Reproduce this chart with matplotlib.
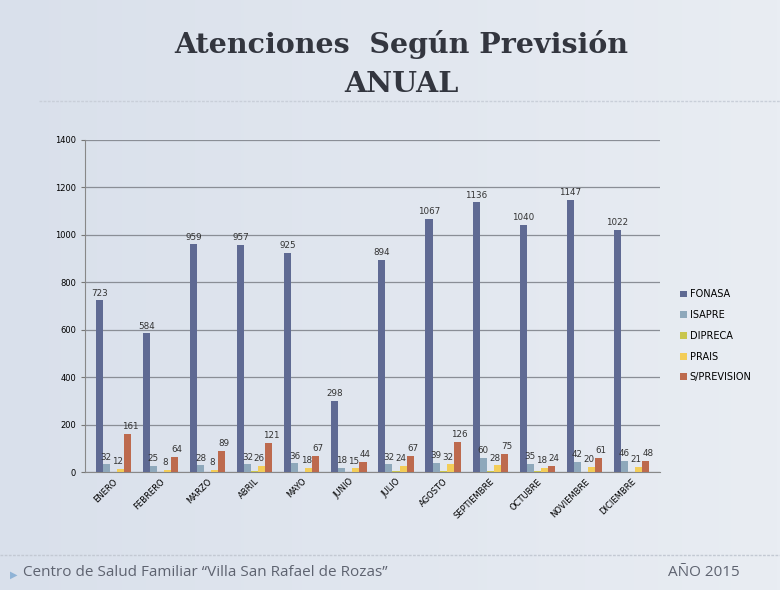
import numpy as np
import matplotlib.pyplot as plt
from matplotlib.lines import Line2D

# data
months = ['ENERO', 'FEBRERO', 'MARZO', 'ABRIL', 'MAYO', 'JUNIO', 'JULIO',
          'AGOSTO', 'SEPTIEMBRE', 'OCTUBRE', 'NOVIEMBRE', 'DICIEMBRE']
fonasa = [723, 584, 959, 957, 925, 298, 894, 1067, 1136, 1040, 1147, 1022]
isapre = [32, 25, 28, 32, 36, 18, 32, 39, 60, 35, 42, 46]
dipreca = [2, 1, 1, 3, 2, 2, 3, 4, 3, 3, 2, 2]
prais = [12, 8, 8, 26, 18, 15, 24, 32, 28, 18, 20, 21]
sprev = [161, 64, 89, 121, 67, 44, 67, 126, 75, 24, 61, 48]

names = ['FONASA', 'ISAPRE', 'DIPRECA', 'PRAIS', 'S/PREVISION']
series = [fonasa, isapre, dipreca, prais, sprev]
colors = ['#5f6a93', '#8ea8bb', '#c9c64e', '#f3cd58', '#bd6a4e']
show_lbl = [True, True, False, True, True]
lbl_dx = [0, 0, 0, -0.05, 0.05]

fig = plt.figure(figsize=(7.8, 5.9), dpi=100)
fig.patch.set_facecolor('#dfe5ee')

# soft background gradient
bg = fig.add_axes([0, 0, 1, 1], zorder=-1)
grad = np.linspace(0, 1, 256).reshape(1, -1)
bg.imshow(grad, aspect='auto', cmap=plt.matplotlib.colors.LinearSegmentedColormap.from_list(
    'bg', ['#d9e0eb', '#e9edf3']), extent=[0, 1, 0, 1])
bg.axis('off')

ax = fig.add_axes([0.109, 0.2, 0.737, 0.563])
ax.set_facecolor('none')

x = np.arange(len(months))
w = 0.15
for i, (vals, c) in enumerate(zip(series, colors)):
    pos = x + (i - 2) * w
    ax.bar(pos, vals, w, color=c, label=names[i], zorder=3)
    if show_lbl[i]:
        for p, v in zip(pos, vals):
            ax.text(p + lbl_dx[i], v + 12, str(v), ha='center', va='bottom',
                    fontsize=6.3, color='#333333', zorder=4)

ax.set_ylim(0, 1400)
ax.set_xlim(-0.6, 11.6)
ax.set_yticks(range(0, 1401, 200))
ax.tick_params(axis='y', labelsize=6, length=3, color='#777777')
ax.tick_params(axis='x', length=0)
ax.set_xticks(x)
ax.set_xticklabels(months, rotation=45, ha='right', rotation_mode='anchor', fontsize=6)
ax.grid(axis='y', color='#8a8e96', lw=0.9, zorder=0)
for s in ['top', 'right']:
    ax.spines[s].set_visible(False)
ax.spines['left'].set_color('#888888')
ax.spines['bottom'].set_color('#888888')

ax.legend(loc='center left', bbox_to_anchor=(1.02, 0.41), frameon=False,
          fontsize=7, handlelength=0.7, handleheight=0.7, handletextpad=0.3,
          labelspacing=1.1)

# title
fig.text(0.515, 0.925, 'Atenciones  Según Previsión', ha='center', va='center',
         fontsize=20.5, fontweight='bold', family='DejaVu Serif', color='#33363f')
fig.text(0.515, 0.857, 'ANUAL', ha='center', va='center',
         fontsize=20.5, fontweight='bold', family='DejaVu Serif', color='#33363f')
fig.add_artist(Line2D([0.05, 1.0], [0.828, 0.828], color='#c9cfd9', lw=1, ls=(0, (2, 1))))

# footer
fig.add_artist(Line2D([0.0, 1.0], [0.06, 0.06], color='#c3c9d3', lw=1, ls=(0, (2, 1))))
fig.text(0.013, 0.025, '\u25B6', fontsize=7, color='#8fb3d6', va='center')
fig.text(0.03, 0.03, 'Centro de Salud Familiar \u201cVilla San Rafael de Rozas\u201d',
         fontsize=11, color='#5e6370', va='center', family='Open Sans')
fig.text(0.857, 0.03, 'AÑO 2015', fontsize=11, color='#5e6370', va='center',
         family='Open Sans')

fig.savefig('out.png', dpi=100, facecolor=fig.get_facecolor())
